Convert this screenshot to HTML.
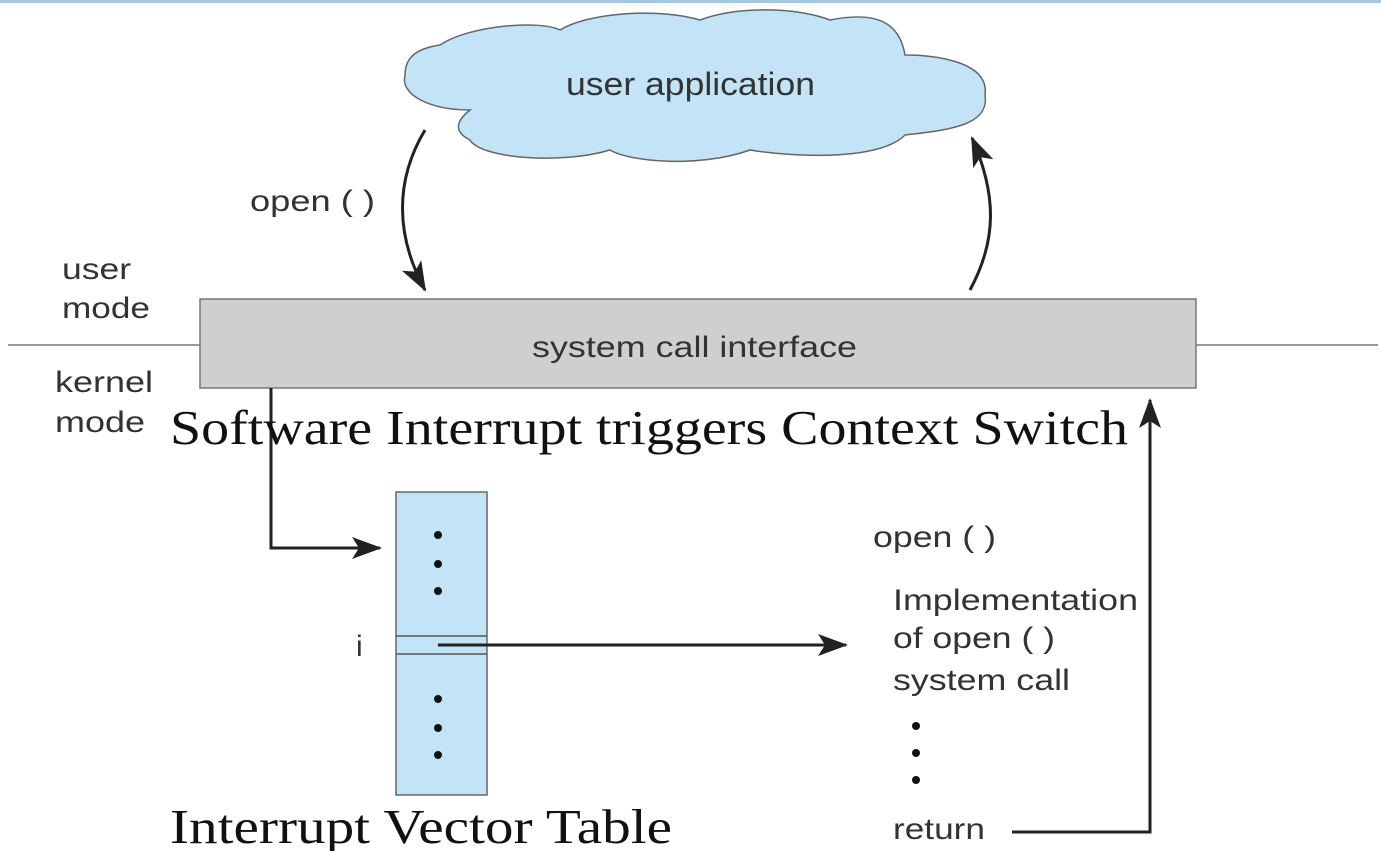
<!DOCTYPE html>
<html><head><meta charset="utf-8"><style>
html,body{margin:0;padding:0;background:#fff;}
svg{display:block;}
.s{font-family:"Liberation Sans",Arial,sans-serif;fill:#333;}
.b{font-family:"Liberation Serif",serif;fill:#111;}
</style></head><body>
<svg width="1381" height="851" viewBox="0 0 1381 851" xmlns="http://www.w3.org/2000/svg">
<defs>
<marker id="ah2" markerWidth="30" markerHeight="22" refX="28" refY="11" orient="auto" markerUnits="userSpaceOnUse">
<path d="M0,0 L30,11 L0,22 L7,11 Z" fill="#222"/></marker>
</defs>
<line x1="0" y1="1.5" x2="1381" y2="1.5" stroke="#9fc8e8" stroke-width="3"/>
<path d="M440,45 C470,25 540,20 560,30 C590,12 660,8 700,20 C740,5 800,8 830,20 C880,10 900,25 905,55 C930,55 990,60 985,95 C990,125 950,130 905,135 C880,160 800,158 750,150 C700,168 630,162 610,150 C560,165 480,158 470,140 C450,130 460,118 470,110 C430,110 400,95 405,75 C405,55 420,48 440,45 Z" fill="#c2e4f6" stroke="#666" stroke-width="1.5"/>
<text x="566" y="95" class="s" font-size="32" textLength="249" lengthAdjust="spacingAndGlyphs">user application</text>
<path d="M425,130 C395,180 395,235 425,290" fill="none" stroke="#222" stroke-width="3" marker-end="url(#ah2)"/>
<path d="M970,290 C997,240 997,195 972,138" fill="none" stroke="#222" stroke-width="3" marker-end="url(#ah2)"/>
<text x="250" y="211" class="s" font-size="30" textLength="125" lengthAdjust="spacingAndGlyphs">open ( )</text>
<text x="62" y="279" class="s" font-size="30" textLength="69" lengthAdjust="spacingAndGlyphs">user</text>
<text x="62" y="318" class="s" font-size="30" textLength="88" lengthAdjust="spacingAndGlyphs">mode</text>
<text x="55" y="392" class="s" font-size="30" textLength="98" lengthAdjust="spacingAndGlyphs">kernel</text>
<text x="55" y="432" class="s" font-size="30" textLength="90" lengthAdjust="spacingAndGlyphs">mode</text>
<line x1="8" y1="345" x2="200" y2="345" stroke="#999" stroke-width="2"/>
<line x1="1196" y1="345" x2="1378" y2="345" stroke="#999" stroke-width="2"/>
<rect x="200" y="299" width="996" height="89" fill="#cfcfd1" stroke="#777" stroke-width="1.5"/>
<text x="532" y="357" class="s" font-size="30" textLength="325" lengthAdjust="spacingAndGlyphs">system call interface</text>
<path d="M271,388 L271,548 L380,548" fill="none" stroke="#222" stroke-width="3" marker-end="url(#ah2)"/>
<rect x="396" y="492" width="91" height="303" fill="#c2e4f6" stroke="#666" stroke-width="1.5"/>
<line x1="396" y1="636" x2="487" y2="636" stroke="#555" stroke-width="1.5"/>
<line x1="396" y1="654" x2="487" y2="654" stroke="#555" stroke-width="1.5"/>
<g fill="#111"><circle cx="438" cy="535" r="4"/><circle cx="438" cy="564" r="4"/><circle cx="438" cy="591" r="4"/><circle cx="438" cy="699" r="4"/><circle cx="438" cy="728" r="4"/><circle cx="438" cy="755" r="4"/>
<circle cx="916" cy="726" r="4"/><circle cx="916" cy="753" r="4"/><circle cx="916" cy="780" r="4"/></g>
<text x="356" y="656" class="s" font-size="30">i</text>
<line x1="438" y1="645" x2="846" y2="645" stroke="#222" stroke-width="3" marker-end="url(#ah2)"/>
<text x="873" y="547" class="s" font-size="30" textLength="123" lengthAdjust="spacingAndGlyphs">open ( )</text>
<text x="893" y="610" class="s" font-size="30" textLength="245" lengthAdjust="spacingAndGlyphs">Implementation</text>
<text x="893" y="648" class="s" font-size="30" textLength="162" lengthAdjust="spacingAndGlyphs">of open ( )</text>
<text x="893" y="690" class="s" font-size="30" textLength="177" lengthAdjust="spacingAndGlyphs">system call</text>
<text x="893" y="839" class="s" font-size="30" textLength="92" lengthAdjust="spacingAndGlyphs">return</text>
<path d="M1012,832 L1150,832 L1150,400" fill="none" stroke="#222" stroke-width="3" marker-end="url(#ah2)"/>
<text x="170" y="444" class="b" font-size="49" textLength="958" lengthAdjust="spacingAndGlyphs">Software Interrupt triggers Context Switch</text>
<text x="170" y="843" class="b" font-size="49" textLength="502" lengthAdjust="spacingAndGlyphs">Interrupt Vector Table</text>
</svg>
</body></html>
